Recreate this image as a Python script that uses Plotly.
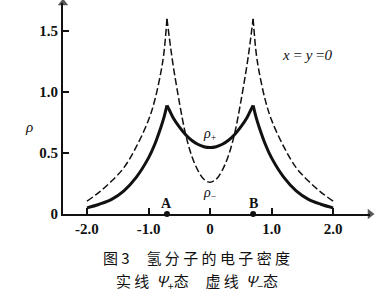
import plotly.graph_objects as go

# Data
z_pos = [-2.0, -1.8, -1.6, -1.4, -1.2, -1.0, -0.9, -0.8, -0.75, -0.7, -0.65, -0.6,
         -0.5, -0.4, -0.3, -0.2, -0.1, 0.0, 0.1, 0.2, 0.3, 0.4, 0.5, 0.6, 0.65,
         0.7, 0.75, 0.8, 0.9, 1.0, 1.2, 1.4, 1.6, 1.8, 2.0]
rho_plus = [0.05, 0.08, 0.12, 0.19, 0.30, 0.46, 0.57, 0.71, 0.79, 0.89, 0.84, 0.79,
            0.714, 0.652, 0.605, 0.572, 0.552, 0.545, 0.552, 0.572, 0.605, 0.652, 0.714, 0.79, 0.84,
            0.89, 0.79, 0.71, 0.57, 0.46, 0.30, 0.19, 0.12, 0.08, 0.05]
rho_minus = [0.105, 0.18, 0.27, 0.38, 0.55, 0.77, 0.93, 1.16, 1.32, 1.60, 1.40, 1.22,
             0.92, 0.66, 0.48, 0.36, 0.285, 0.26, 0.285, 0.36, 0.48, 0.66, 0.92, 1.22, 1.40,
             1.60, 1.32, 1.16, 0.93, 0.77, 0.55, 0.38, 0.27, 0.18, 0.105]
nuclei_x = [-0.7, 0.7]
nuclei_labels = ["A", "B"]
x_ticks = [-2.0, -1.0, 0.0, 1.0, 2.0]
x_tick_text = ["-2.0", "-1.0", "0", "1.0", "2.0"]
y_ticks = [0, 0.5, 1.0, 1.5]
y_tick_text = ["0", "0.5", "1.0", "1.5"]
x_range = [-2.39, 2.60]
y_range = [0, 1.73]

SERIF = "Liberation Serif"
CJK = "Noto Sans CJK SC"
INK = "#111111"

fig = go.Figure()

# split into segments at the cusps (nuclei positions)
cusps = [i for i, v in enumerate(z_pos) if v in nuclei_x]
bounds = [0] + cusps + [len(z_pos) - 1]
for a, b in zip(bounds[:-1], bounds[1:]):
    xs = z_pos[a:b + 1]
    fig.add_trace(go.Scatter(x=xs, y=rho_minus[a:b + 1], mode="lines",
                             line=dict(color=INK, width=1.5, dash="7px,3px", shape="spline"),
                             showlegend=False, hoverinfo="skip"))
    fig.add_trace(go.Scatter(x=xs, y=rho_plus[a:b + 1], mode="lines",
                             line=dict(color=INK, width=3, shape="spline"),
                             showlegend=False, hoverinfo="skip"))

# nuclei dots
fig.add_trace(go.Scatter(x=nuclei_x, y=[0, 0], mode="markers",
                         marker=dict(color=INK, size=6), cliponaxis=False,
                         showlegend=False, hoverinfo="skip"))

# axis arrowheads
fig.add_trace(go.Scatter(x=[x_range[1]], y=[y_range[0]], mode="markers",
                         marker=dict(symbol="triangle-right", color=INK, size=[9],
                                     line=dict(width=0)),
                         cliponaxis=False, showlegend=False, hoverinfo="skip"))
fig.add_trace(go.Scatter(x=[x_range[0]], y=[y_range[1]], mode="markers",
                         marker=dict(symbol="triangle-up", color=INK, size=[9],
                                     line=dict(width=0)),
                         cliponaxis=False, showlegend=False, hoverinfo="skip"))

for xv, lab in zip(nuclei_x, nuclei_labels):
    fig.add_annotation(x=xv, y=0.09, text=lab, showarrow=False,
                       font=dict(family=SERIF, size=14, color=INK, weight="bold"))

# curve labels
fig.add_annotation(x=0.0, y=0.65, text="<i>ρ</i><sub>+</sub>", showarrow=False,
                   font=dict(family=SERIF, size=14, color=INK))
fig.add_annotation(x=0.0, y=0.17, text="<i>ρ</i><sub>−</sub>", showarrow=False,
                   font=dict(family=SERIF, size=14, color=INK))
fig.add_annotation(x=1.58, y=1.30, text="<i>x</i> = <i>y</i> =<i>0</i>", showarrow=False,
                   font=dict(family=SERIF, size=15, color=INK))
# y label
fig.add_annotation(xref="paper", x=-0.13, y=0.71, text="<i>ρ</i>", showarrow=False,
                   font=dict(family=SERIF, size=15, color=INK))

# captions
nb = "\u00a0"
cap1 = "图" + nb + "3" + nb * 5 + nb.join("氢分子的电子密度")
cap2 = ("实" + nb + "线" + nb * 2 + "<i>Ψ</i><sub>+</sub>态" + nb * 5 +
        "虚" + nb + "线" + nb * 2 + "<i>Ψ</i><sub>−</sub>态")
fig.add_annotation(xref="paper", yref="paper", x=0.436, y=-0.204, text=cap1,
                   showarrow=False, yanchor="middle",
                   font=dict(family=CJK, size=15, color=INK))
fig.add_annotation(xref="paper", yref="paper", x=0.436, y=-0.322, text=cap2,
                   showarrow=False, yanchor="middle",
                   font=dict(family=CJK, size=15, color=INK))

fig.update_layout(
    width=383, height=300,
    margin=dict(l=63, r=13, t=3, b=86),
    paper_bgcolor="white", plot_bgcolor="white",
    xaxis=dict(range=x_range, showgrid=False, zeroline=False,
               showline=True, linecolor=INK, linewidth=2,
               ticks="inside", ticklen=6, tickwidth=1.5, tickcolor=INK,
               tickvals=x_ticks, ticktext=x_tick_text,
               tickfont=dict(family=SERIF, size=15, color=INK, weight="bold")),
    yaxis=dict(range=y_range, showgrid=False, zeroline=False,
               showline=True, linecolor=INK, linewidth=2,
               ticks="inside", ticklen=6, tickwidth=1.5, tickcolor=INK,
               tickvals=y_ticks, ticktext=y_tick_text,
               tickfont=dict(family=SERIF, size=15, color=INK, weight="bold")),
)

fig.write_html("out.html")
